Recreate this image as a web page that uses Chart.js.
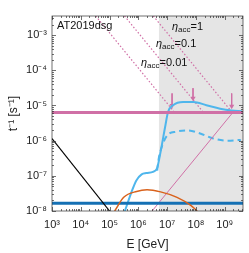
<html>
<head>
  <style type="text/css">
    body { margin: 0; background: #fff; }
  </style>
</head>
<body>
  <canvas id="chart" width="249" height="253"></canvas>
  <script src="https://cdn.jsdelivr.net/npm/chart.js@4/dist/chart.umd.min.js"></script>
  <script>
    const xTicks = [1e3, 1e4, 1e5, 1e6, 1e7, 1e8, 1e9];
    const yTicks = [1e-8, 1e-7, 1e-6, 1e-5, 1e-4, 1e-3];

    // light blue solid curve
    const blueE = [3.4e5, 5.8e5, 8.5e5, 1.3e6, 1.9e6, 3.2e6, 4.4e6, 5.9e6, 8.7e6, 1.07e7, 1.6e7, 3.6e7, 8.1e7, 2.3e8, 6.9e8, 1.74e9, 3.9e9];
    const blueR = [1.0e-8, 3.5e-8, 7.4e-8, 1.1e-7, 1.2e-7, 1.3e-7, 1.6e-7, 4.8e-7, 2.75e-6, 6.5e-6, 1.02e-5, 1.26e-5, 1.26e-5, 1.02e-5, 8.1e-6, 7.2e-6, 6.9e-6];
    // light blue dashed curve
    const dashE = [4.5e6, 5.1e6, 6.8e6, 1.0e7, 2.1e7, 5.0e7, 1.4e8, 4.0e8, 1.2e9, 3.6e9];
    const dashR = [1.4e-7, 3.1e-7, 7.4e-7, 1.4e-6, 1.8e-6, 1.95e-6, 1.6e-6, 1.15e-6, 1.0e-6, 1.05e-6];
    // orange curve
    const orangeE = [1.5e5, 3.1e5, 8.7e5, 2.0e6, 5.9e6, 2.2e7, 6.6e7, 1.1e8];
    const orangeR = [1.0e-8, 2.45e-8, 3.6e-8, 4.0e-8, 3.5e-8, 2.45e-8, 1.45e-8, 1.0e-8];
    // black line
    const blackE = [1e3, 1e5];
    const blackR = [1.15e-6, 1.0e-8];
    // horizontal levels
    const pinkLevel = 6.3e-6;
    const blueLevel = 1.66e-8;
    // thin pink rising line
    const thinE = [3.0e6, 1.9e9];
    const thinR = [1.0e-8, 6.3e-6];
    // acceleration lines (eta = 1, 0.1, 0.01)
    const etaLabels = ['1', '0.1', '0.01'];
    const etaE = [[3.3e4, 1.83e7], [3.3e5, 1.83e8], [3.3e6, 1.83e9]];
    const etaR = [3.5e-3, 6.3e-6];
    // arrows
    const arrowE = [1.48e7, 7.9e7, 1.74e9];
    const arrowTop = [2.2e-5, 3.1e-5, 2.2e-5];
    const arrowTip = [1.0e-5, 1.6e-5, 9.5e-6];
    // shaded region start
    const shadeStart = 5.1e6;

    const xMin = 1e3, xMax = 4.3e9, yMin = 1e-8, yMax = 3.5e-3;
    const pink = '#d070a6';

    function pts(xs, ys) {
      return xs.map((x, i) => ({ x: x, y: ys[i] }));
    }
    const sup = { '0': '⁰', '1': '¹', '2': '²', '3': '³', '4': '⁴', '5': '⁵', '6': '⁶', '7': '⁷', '8': '⁸', '9': '⁹', '-': '⁻' };
    function pow10Label(v) {
      const e = String(Math.round(Math.log10(v)));
      return '10' + e.split('').map(c => sup[c]).join('');
    }

    const datasets = [
      { data: [{ x: shadeStart, y: yMax }, { x: xMax, y: yMax }], borderWidth: 0, backgroundColor: '#e5e5e5', fill: 'start', order: 20 },
      { data: pts(blackE, blackR), borderColor: '#000', borderWidth: 1.2 },
      { data: pts(orangeE, orangeR), borderColor: '#d9621c', borderWidth: 1.5, cubicInterpolationMode: 'monotone' },
      { data: pts([xMin, xMax], [blueLevel, blueLevel]), borderColor: '#1470b4', borderWidth: 3 },
      { data: pts(thinE, thinR), borderColor: pink, borderWidth: 1 },
      { data: pts([xMin, xMax], [pinkLevel, pinkLevel]), borderColor: pink, borderWidth: 3 },
      { data: pts(dashE, dashR), borderColor: '#4fb6ec', borderWidth: 2, borderDash: [6, 4], cubicInterpolationMode: 'monotone' },
      { data: pts(blueE, blueR), borderColor: '#4fb6ec', borderWidth: 2, cubicInterpolationMode: 'monotone' }
    ];
    etaE.forEach(e => {
      datasets.push({ data: pts(e, etaR), borderColor: pink, borderWidth: 1.2, borderDash: [1.5, 2] });
    });
    arrowE.forEach((e, i) => {
      datasets.push({
        data: pts([e, e], [arrowTop[i], arrowTip[i]]),
        borderColor: pink, borderWidth: 1, backgroundColor: pink,
        pointRadius: [0, 3], pointStyle: 'triangle', rotation: 180, pointBorderWidth: 0
      });
    });

    const frame = {
      id: 'frame',
      afterDraw(chart) {
        const ctx = chart.ctx, a = chart.chartArea;
        const xs = chart.scales.x, ys = chart.scales.y;
        ctx.save();
        ctx.strokeStyle = '#333';
        ctx.lineWidth = 0.7;
        ctx.strokeRect(a.left, a.top, a.right - a.left, a.bottom - a.top);
        ctx.beginPath();
        for (let d = 3; d <= 9; d++) {
          for (let m = 1; m <= 9; m++) {
            const v = m * Math.pow(10, d);
            if (v < xMin || v > xMax) continue;
            const p = Math.round(xs.getPixelForValue(v)) + 0.5;
            const len = m === 1 ? 4 : 2;
            ctx.moveTo(p, a.bottom); ctx.lineTo(p, a.bottom - len);
            ctx.moveTo(p, a.top); ctx.lineTo(p, a.top + len);
          }
        }
        for (let d = -8; d <= -3; d++) {
          for (let m = 1; m <= 9; m++) {
            const v = m * Math.pow(10, d);
            if (v < yMin || v > yMax) continue;
            const p = Math.round(ys.getPixelForValue(v)) + 0.5;
            const len = m === 1 ? 4 : 2;
            ctx.moveTo(a.left, p); ctx.lineTo(a.left + len, p);
            ctx.moveTo(a.right, p); ctx.lineTo(a.right - len, p);
          }
        }
        ctx.stroke();

        ctx.fillStyle = '#111';
        ctx.textBaseline = 'alphabetic';
        ctx.textAlign = 'left';
        ctx.font = '11px "Liberation Sans", Arial, sans-serif';
        ctx.fillText('AT2019dsg', a.left + 5, a.top + 13);

        const etaPos = [[172, 30], [156, 47], [141, 66]];
        etaLabels.forEach((lab, i) => {
          let x = etaPos[i][0];
          const y = etaPos[i][1];
          ctx.font = 'italic 11px "Liberation Sans", Arial, sans-serif';
          ctx.fillText('η', x, y);
          x += ctx.measureText('η').width;
          ctx.font = '8px "Liberation Sans", Arial, sans-serif';
          ctx.fillText('acc', x, y + 2);
          x += ctx.measureText('acc').width;
          ctx.font = '11px "Liberation Sans", Arial, sans-serif';
          ctx.fillText('=' + lab, x, y);
        });
        ctx.restore();
      }
    };

    const tickFont = { family: '"Liberation Sans", Arial, sans-serif', size: 11 };

    new Chart(document.getElementById('chart'), {
      type: 'scatter',
      data: { datasets: datasets },
      options: {
        responsive: false,
        devicePixelRatio: 1,
        animation: false,
        layout: { padding: { top: 16, right: 6, left: 0, bottom: 0 } },
        elements: { point: { radius: 0 }, line: { tension: 0 } },
        datasets: { scatter: { showLine: true, pointRadius: 0 } },
        plugins: { legend: { display: false }, tooltip: { enabled: false } },
        scales: {
          x: {
            type: 'logarithmic', min: xMin, max: xMax,
            afterBuildTicks: s => { s.ticks = xTicks.map(v => ({ value: v })); },
            afterFit: s => { s.height = 42; },
            grid: { display: false, drawTicks: false },
            border: { display: false },
            ticks: { font: tickFont, color: '#222', padding: 7, maxRotation: 0, autoSkip: false, callback: v => pow10Label(v) },
            title: { display: true, text: 'E [GeV]', font: { family: tickFont.family, size: 12 }, color: '#222', padding: { top: 2, bottom: 1 } }
          },
          y: {
            type: 'logarithmic', min: yMin, max: yMax,
            afterBuildTicks: s => { s.ticks = yTicks.map(v => ({ value: v })); },
            afterFit: s => { s.width = 52; },
            grid: { display: false, drawTicks: false },
            border: { display: false },
            ticks: { font: tickFont, color: '#222', padding: 5, autoSkip: false, callback: v => pow10Label(v) },
            title: { display: true, text: 't⁻¹ [s⁻¹]', font: { family: tickFont.family, size: 12 }, color: '#222', padding: { top: 6, bottom: 0 } }
          }
        }
      },
      plugins: [frame]
    });
  </script>
</body>
</html>
